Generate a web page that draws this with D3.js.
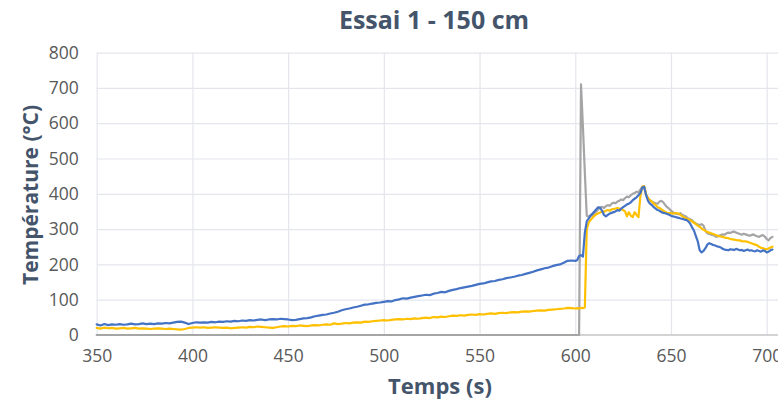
<!DOCTYPE html>
<html>
<head>
<meta charset="utf-8">
<script src="https://cdn.jsdelivr.net/npm/d3@7"></script>
<style>
  html, body { margin: 0; padding: 0; background: #ffffff; }
  svg { display: block; }
</style>
</head>
<body>
<svg id="chart" width="778" height="401"></svg>
<script>
// ---------- DATA ----------
const title = "Essai 1 - 150 cm";
const xTitle = "Temps (s)";
const yTitle = "Température (°C)";
const xTicks = [350, 400, 450, 500, 550, 600, 650, 700];
const yTicks = [0, 100, 200, 300, 400, 500, 600, 700, 800];

// time (s): every 2 s from 350 to 600, then every 1 s from 601 to 703
const timesEarly = d3.range(350, 601, 2);
const timesLate = d3.range(601, 704, 1);
const times = timesEarly.concat(timesLate);

// Blue series
const blueEarly = [
  30, 27, 31, 28, 30, 29, 31, 29, 30, 32,
  30, 31, 33, 31, 32, 31, 33, 32, 34, 33,
  35, 37, 38, 35, 31, 34, 36, 35, 36, 35,
  37, 36, 38, 37, 39, 38, 40, 39, 41, 40,
  42, 41, 43, 44, 42, 44, 45, 44, 46, 45,
  44, 42, 43, 45, 47, 48, 50, 53, 55, 57,
  58, 61, 63, 66, 70, 73, 75, 78, 80, 83,
  86, 87, 89, 91, 92, 94, 96, 95, 99, 101,
  104, 103, 106, 108, 110, 112, 114, 113, 117, 119,
  122, 121, 125, 128, 130, 133, 135, 137, 139, 142,
  145, 146, 149, 152, 153, 156, 158, 161, 163, 165,
  168, 170, 173, 176, 179, 183, 186, 189, 191, 195,
  198, 200, 205, 210, 211, 210
];
const blueLate = [
  212, 224, 226, 222, 290, 322, 330, 338, 344, 350,
  356, 362, 360, 352, 340, 336, 340, 344, 346, 348,
  350, 354, 352, 358, 362, 366, 370, 372, 376, 382,
  386, 390, 396, 402, 418, 420, 396, 380, 372, 368,
  362, 358, 354, 352, 348, 346, 345, 343, 341, 338,
  336, 335, 333, 332, 330, 329, 327, 326, 322, 316,
  305, 296, 280, 265, 240, 234, 238, 246, 256, 260,
  258, 255, 254, 251, 250, 248, 244, 242, 241, 240,
  243, 242, 241, 244, 242, 240, 241, 238, 240, 242,
  239, 240, 238, 237, 240, 238, 236, 240, 238, 234,
  236, 240, 242
];

// Yellow series
const yellowEarly = [
  20, 18, 21, 19, 20, 18, 19, 20, 18, 19,
  20, 18, 19, 18, 17, 18, 19, 18, 17, 18,
  17, 16, 15, 17, 20, 21, 22, 21, 22, 20,
  21, 22, 21, 20, 21, 19, 20, 21, 22, 21,
  23, 22, 24, 23, 22, 21, 20, 22, 24, 25,
  24, 26, 25, 27, 26, 25, 27, 28, 27, 29,
  30, 29, 33, 31, 32, 34, 33, 35, 36, 35,
  38, 37, 39, 40, 41, 42, 41, 43, 44, 45,
  44, 46, 45, 47, 46, 48, 49, 48, 51, 50,
  52, 51, 53, 55, 54, 56, 55, 57, 58, 57,
  59, 58, 60, 61, 60, 62, 63, 62, 64, 65,
  64, 66, 67, 66, 68, 69, 70, 69, 71, 72,
  73, 74, 75, 77, 76, 75
];
const yellowLate = [
  76, 75, 77, 76, 78, 300, 318, 326, 332, 338,
  342, 345, 347, 350, 349, 352, 354, 352, 356, 357,
  358, 360, 358, 356, 354, 350, 336, 348, 338, 334,
  348, 340, 334, 392, 420, 422, 398, 388, 382, 378,
  372, 368, 362, 360, 356, 352, 348, 346, 345, 345,
  344, 345, 345, 344, 340, 336, 333, 330, 328, 325,
  322, 318, 314, 310, 306, 302, 298, 295, 292, 290,
  288, 286, 284, 282, 280, 279, 278, 276, 275, 274,
  272, 271, 270, 269, 268, 268, 266, 265, 265, 264,
  262, 260, 258, 256, 254, 250, 247, 246, 244, 243,
  245, 248, 250
];

// Gray series (reads 0 until the spike)
const grayEarly = [
  0, 0, 0, 0, 0, 0, 0, 0, 0, 0,
  0, 0, 0, 0, 0, 0, 0, 0, 0, 0,
  0, 0, 0, 0, 0, 0, 0, 0, 0, 0,
  0, 0, 0, 0, 0, 0, 0, 0, 0, 0,
  0, 0, 0, 0, 0, 0, 0, 0, 0, 0,
  0, 0, 0, 0, 0, 0, 0, 0, 0, 0,
  0, 0, 0, 0, 0, 0, 0, 0, 0, 0,
  0, 0, 0, 0, 0, 0, 0, 0, 0, 0,
  0, 0, 0, 0, 0, 0, 0, 0, 0, 0,
  0, 0, 0, 0, 0, 0, 0, 0, 0, 0,
  0, 0, 0, 0, 0, 0, 0, 0, 0, 0,
  0, 0, 0, 0, 0, 0, 0, 0, 0, 0,
  0, 0, 0, 0, 0, 0
];
const grayLate = [
  0, 0, 710, 590, 460, 338, 335, 340, 338, 345,
  350, 356, 362, 363, 360, 365, 368, 366, 372, 375,
  373, 378, 380, 384, 382, 388, 392, 390, 396, 400,
  402, 406, 404, 412, 420, 418, 398, 388, 382, 378,
  375, 373, 372, 378, 380, 376, 368, 362, 358, 352,
  348, 345, 343, 342, 345, 340, 338, 335, 330, 328,
  325, 320, 316, 313, 312, 314, 310, 295, 288, 286,
  284, 283, 280, 278, 281, 283, 285, 284, 288, 290,
  289, 292, 293, 290, 288, 286, 284, 287, 285, 283,
  281, 283, 285, 282, 280, 278, 281, 283, 279, 272,
  268, 275, 278
];

const seriesNames = ["gray", "yellow", "blue"];
const seriesColors = ["#A5A5A5", "#FFC000", "#4472C4"];
const seriesValues = [
  grayEarly.concat(grayLate),
  yellowEarly.concat(yellowLate),
  blueEarly.concat(blueLate)
];

// ---------- LAYOUT ----------
const W = 778, H = 401;
const plot = { left: 96.7, right: 766.7, top: 52.6, bottom: 335 };
const titleColor = "#44546A";
const tickColor = "#595959";
const gridColor = "#e4e6ec";
const fontFamily = "'Open Sans', 'Noto Sans', sans-serif";

const svg = d3.select("#chart");
svg.append("rect").attr("width", W).attr("height", H).attr("fill", "#ffffff");

const x = d3.scaleLinear().domain([350, 700]).range([plot.left, plot.right]);
const y = d3.scaleLinear().domain([0, 800]).range([plot.bottom, plot.top]);

// vertical grid
svg.append("g")
  .attr("transform", `translate(0,${plot.bottom})`)
  .call(d3.axisBottom(x).tickValues(xTicks).tickSize(-(plot.bottom - plot.top)).tickFormat(""))
  .call(g => g.select(".domain").remove())
  .call(g => g.selectAll("line").attr("stroke", gridColor).attr("stroke-width", 1.2));

// horizontal grid
svg.append("g")
  .attr("transform", `translate(${plot.left},0)`)
  .call(d3.axisLeft(y).tickValues(yTicks.filter(d => d > 0)).tickSize(-(x(760) - plot.left)).tickFormat(""))
  .call(g => g.select(".domain").remove())
  .call(g => g.selectAll("line").attr("stroke", gridColor).attr("stroke-width", 1.2));

// bottom axis line
svg.append("line")
  .attr("x1", plot.left).attr("x2", x(760))
  .attr("y1", plot.bottom).attr("y2", plot.bottom)
  .attr("stroke", "#c4c4c4").attr("stroke-width", 1.5);

// x tick labels
svg.append("g")
  .attr("transform", `translate(0,${plot.bottom})`)
  .call(d3.axisBottom(x).tickValues(xTicks).tickSize(0).tickPadding(15))
  .call(g => g.select(".domain").remove())
  .call(g => g.selectAll("text")
    .attr("fill", tickColor)
    .style("font-family", fontFamily)
    .style("font-size", "17.5px"));

// y tick labels
svg.append("g")
  .attr("transform", `translate(${plot.left},0)`)
  .call(d3.axisLeft(y).tickValues(yTicks).tickSize(0).tickPadding(18))
  .call(g => g.select(".domain").remove())
  .call(g => g.selectAll("text")
    .attr("fill", tickColor)
    .style("font-family", fontFamily)
    .style("font-size", "17.5px"));

// lines
const line = d3.line()
  .x((d, i) => x(times[i]))
  .y(d => y(d));

svg.append("g").selectAll("path")
  .data(seriesValues)
  .join("path")
  .attr("d", d => line(d))
  .attr("fill", "none")
  .attr("stroke", (d, i) => seriesColors[i])
  .attr("stroke-width", 2.2)
  .attr("stroke-linejoin", "round")
  .attr("stroke-linecap", "round");

// titles
svg.append("text")
  .attr("x", 434).attr("y", 29)
  .attr("text-anchor", "middle")
  .attr("fill", titleColor)
  .style("font-family", fontFamily)
  .style("font-weight", "bold")
  .style("font-size", "25px")
  .text(title);

svg.append("text")
  .attr("x", 440).attr("y", 394)
  .attr("text-anchor", "middle")
  .attr("fill", titleColor)
  .style("font-family", fontFamily)
  .style("font-weight", "bold")
  .style("font-size", "22px")
  .text(xTitle);

svg.append("text")
  .attr("transform", "translate(38,195) rotate(-90)")
  .attr("text-anchor", "middle")
  .attr("fill", titleColor)
  .style("font-family", fontFamily)
  .style("font-weight", "bold")
  .style("font-size", "21px")
  .text(yTitle);
</script>
</body>
</html>
